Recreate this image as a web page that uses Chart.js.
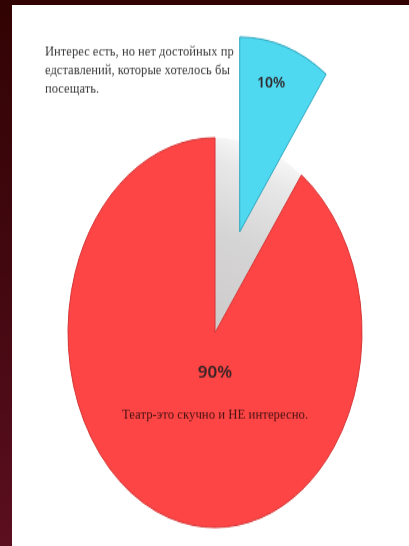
<!DOCTYPE html>
<html lang="ru">
<head>
    <meta charset="UTF-8">
    <title>Театр</title>
    <style>
        body {
            margin: 0;
            padding: 0;
            width: 409px;
            height: 546px;
            overflow: hidden;
            position: relative;
            background: linear-gradient(to bottom, #320303 0%, #420810 50%, #5c0f1f 100%);
        }
        #panel {
            position: absolute;
            left: 12px;
            top: 5px;
            right: 0;
            bottom: 0;
            background: #ffffff;
        }
        #pie {
            position: absolute;
            left: 0;
            top: 0;
            transform-origin: 0 0;
        }
    </style>
</head>
<body>
    <div id="panel"></div>
    <canvas id="pie" width="409" height="412"></canvas>
    <script src="https://cdn.jsdelivr.net/npm/chart.js"></script>
    <script>
        // data
        const categories = [
            "Интерес есть, но нет достойных представлений, которые хотелось бы посещать.",
            "Театр-это скучно и НЕ интересно."
        ];
        const categoryLines = [
            ["Интерес есть, но нет достойных пр", "едставлений, которые хотелось бы", "посещать."],
            ["Театр-это скучно и НЕ интересно."]
        ];
        const values = [10, 90];
        const sliceColors = ["#4fd9f1", "#fe4545"];
        const sliceBorders = ["#2ea6bd", "#d43434"];

        // the picture is a tilted pie, so stretch the canvas vertically
        const S = 546 / 412;
        const canvas = document.getElementById("pie");
        canvas.style.transform = "scaleY(" + S + ")";

        const total = values.reduce((a, b) => a + b, 0);
        const pullOut = 320; // chart.js moves the slice by offset / 4
        let wallAngles = null;

        function drawText(ctx, str, x, y, font, color, align) {
            ctx.save();
            ctx.translate(x, y);
            ctx.scale(1, 1 / S);
            ctx.font = font;
            ctx.fillStyle = color;
            ctx.textAlign = align || "center";
            ctx.textBaseline = "middle";
            ctx.fillText(str, 0, 0);
            ctx.restore();
        }

        const pieDecor = {
            id: "pieDecor",
            afterUpdate(chart) {
                // chart.js grows and narrows a pulled slice; undo both so it keeps the pie's shape
                const meta = chart.getDatasetMeta(0);
                const el = meta.data[0];
                const R = meta.data[1].outerRadius;
                wallAngles = [el.startAngle, el.endAngle];
                const fix = 1 - Math.sin(Math.min(Math.PI, el.circumference));
                const grow = (pullOut / 4) * fix;
                el.outerRadius = R - grow;
                const widen = grow / (Math.PI * R);
                el.startAngle -= widen / 2;
                el.endAngle += widen / 2;
            },
            beforeDatasetsDraw(chart) {
                // grey side wall where the pulled-out slice used to be
                const meta = chart.getDatasetMeta(0);
                const a = meta.data[0];
                const r = meta.data[1].outerRadius;
                const ctx = chart.ctx;
                const mid = (wallAngles[0] + wallAngles[1]) / 2;
                const g = ctx.createLinearGradient(a.x, a.y,
                    a.x + Math.cos(mid) * r, a.y + Math.sin(mid) * r);
                g.addColorStop(0, "#cdcaca");
                g.addColorStop(0.5, "#d6d5d5");
                g.addColorStop(0.85, "#e8e8e8");
                g.addColorStop(1, "#f8f8f8");
                ctx.save();
                ctx.beginPath();
                ctx.moveTo(a.x, a.y);
                ctx.arc(a.x, a.y, r, wallAngles[0], wallAngles[1]);
                ctx.closePath();
                ctx.fillStyle = g;
                ctx.fill();
                ctx.restore();
            },
            afterDatasetsDraw(chart) {
                const ctx = chart.ctx;
                const meta = chart.getDatasetMeta(0);
                const r = meta.data[1].outerRadius;

                // small slice: percent inside the pulled-out piece, label to the left
                const a0 = meta.data[0];
                const m0 = (wallAngles[0] + wallAngles[1]) / 2;
                const d0 = pullOut / 4 + r * 0.8;
                drawText(ctx, Math.round(values[0] / total * 100) + "%",
                    a0.x + Math.cos(m0) * d0 - 5, a0.y + Math.sin(m0) * d0,
                    "600 14px 'Noto Sans'", "#2e2a2c");
                categoryLines[0].forEach((line, i) => {
                    drawText(ctx, line, 45, (53 + i * 18) / S,
                        "12.6px 'Liberation Serif'", "#3a3a3a", "left");
                });

                // big slice: percent and label below the centre
                const a1 = meta.data[1];
                drawText(ctx, Math.round(values[1] / total * 100) + "%",
                    a1.x, a1.y + 40 / S, "600 17px 'Noto Sans'", "#3a2426");
                categoryLines[1].forEach((line, i) => {
                    drawText(ctx, line, a1.x, a1.y + (83 + i * 16) / S,
                        "12.8px 'Liberation Serif'", "#4a1212");
                });
            }
        };

        new Chart(canvas, {
            type: "pie",
            data: {
                labels: categories,
                datasets: [{
                    data: values,
                    backgroundColor: sliceColors,
                    borderColor: sliceBorders,
                    borderWidth: 1,
                    offset: [pullOut, 0],
                    radius: 147
                }]
            },
            options: {
                responsive: false,
                animation: false,
                layout: { padding: { left: 21, top: 90 } },
                plugins: {
                    legend: { display: false },
                    tooltip: { enabled: false }
                }
            },
            plugins: [pieDecor]
        });
    </script>
</body>
</html>
